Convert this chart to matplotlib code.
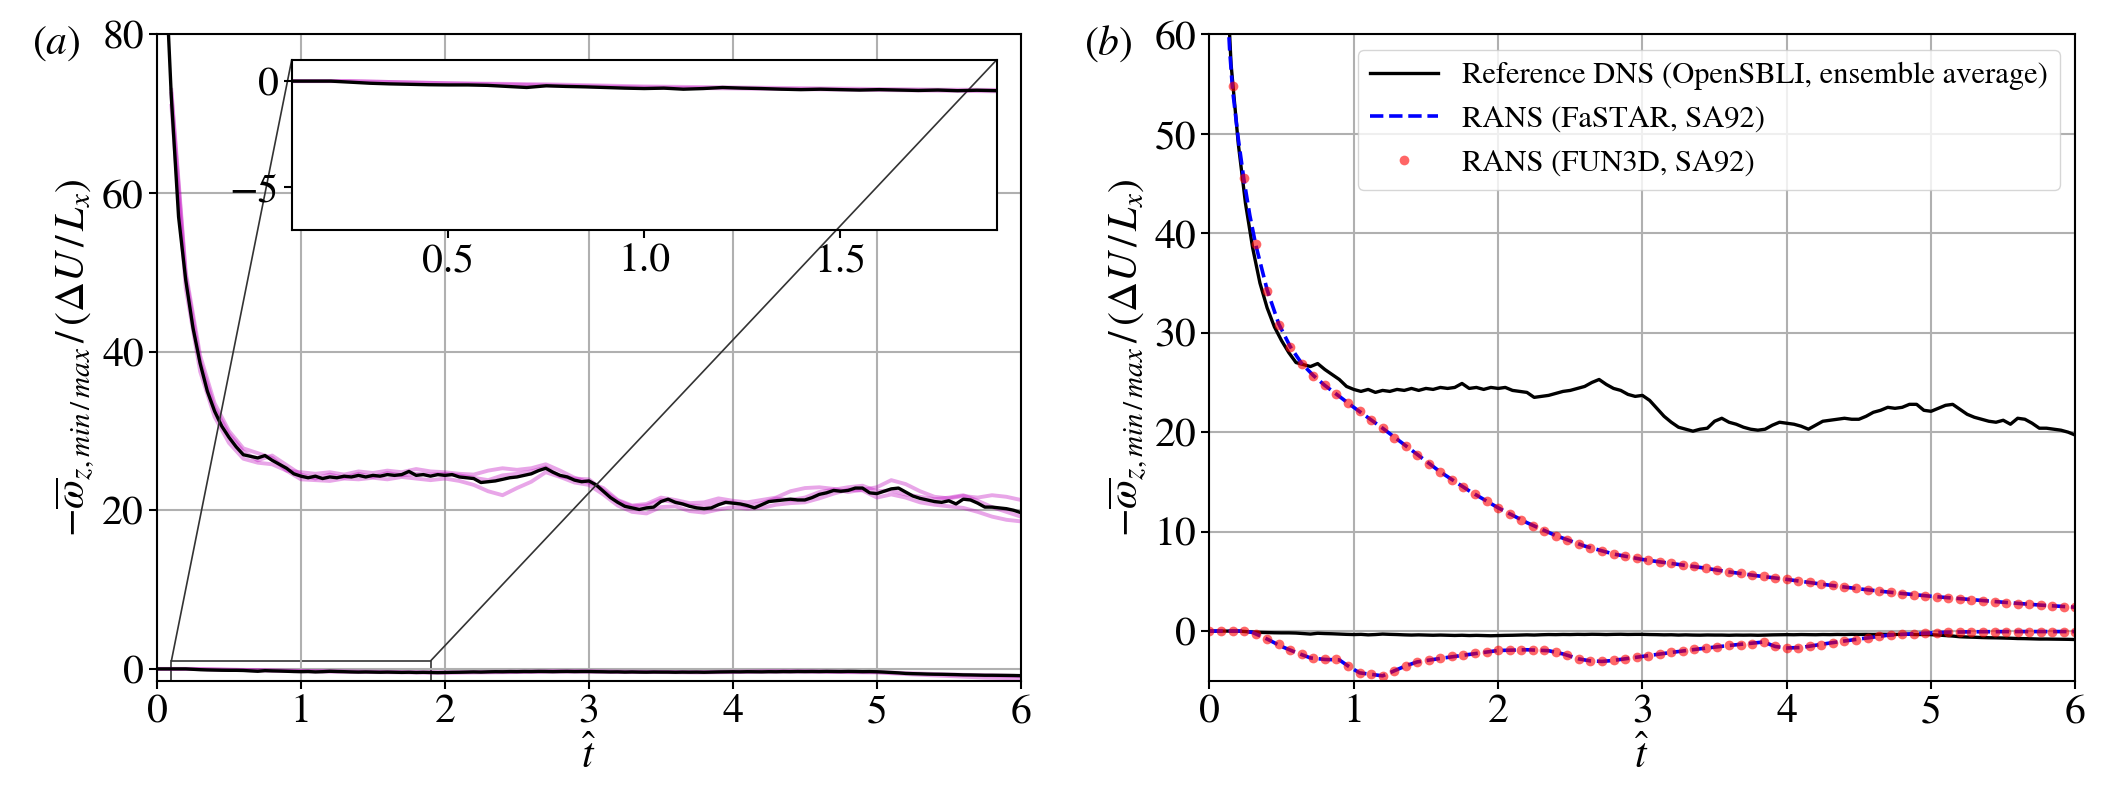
import numpy as np
import matplotlib
matplotlib.use("Agg")
import matplotlib.pyplot as plt
from mpl_toolkits.axes_grid1.inset_locator import mark_inset

plt.rcParams["font.family"] = ["STIXGeneral", "DejaVu Serif"]
plt.rcParams["mathtext.fontset"] = "stix"

# --- reference DNS, ensemble average (max vorticity), t = 0.05 ... 6.00 step 0.05
t_dns = np.arange(1, 121) * 0.05
dns_max = [
    92, 72, 57, 49, 43, 38.5, 35, 32.5, 30.6, 29.2,
    28.0, 27.0, 26.8, 26.6, 26.9, 26.3, 25.8, 25.3, 24.6, 24.3,
    24.1, 24.3, 24.0, 24.2, 24.1, 24.3, 24.2, 24.4, 24.2, 24.4,
    24.3, 24.5, 24.4, 24.5, 24.9, 24.4, 24.5, 24.3, 24.5, 24.4,
    24.5, 24.2, 24.1, 24.0, 23.5, 23.6, 23.7, 23.9, 24.1, 24.2,
    24.4, 24.6, 25.0, 25.3, 24.8, 24.4, 24.2, 23.8, 23.6, 23.7,
    23.2, 22.4, 21.6, 21.0, 20.5, 20.3, 20.1, 20.3, 20.4, 21.1,
    21.4, 21.0, 20.8, 20.5, 20.3, 20.2, 20.3, 20.7, 21.0, 20.9,
    20.8, 20.6, 20.3, 20.7, 21.1, 21.2, 21.3, 21.4, 21.3, 21.3,
    21.6, 22.0, 22.2, 22.5, 22.4, 22.5, 22.8, 22.8, 22.2, 22.1,
    22.4, 22.7, 22.8, 22.3, 21.8, 21.5, 21.3, 21.1, 21.0, 21.2,
    20.8, 21.4, 21.3, 20.9, 20.4, 20.4, 20.3, 20.2, 20.0, 19.7,
]

# DNS ensemble average (min vorticity), t = 0.00 ... 6.00 step 0.05
t_dns_low = np.arange(0, 121) * 0.05
dns_min = [
    0.0,
    0.0, 0.0, 0.0, 0.0, -0.05, -0.1, -0.13, -0.15, -0.17, -0.18,
    -0.18, -0.2, -0.25, -0.3, -0.22, -0.25, -0.27, -0.3, -0.33, -0.35,
    -0.33, -0.38, -0.35, -0.3, -0.33, -0.35, -0.38, -0.4, -0.38, -0.4,
    -0.42, -0.4, -0.42, -0.44, -0.42, -0.45, -0.43, -0.45, -0.47, -0.45,
    -0.43, -0.42, -0.4, -0.38, -0.4, -0.37, -0.35, -0.36, -0.34, -0.35,
    -0.33, -0.34, -0.32, -0.33, -0.35, -0.33, -0.32, -0.34, -0.33, -0.33,
    -0.35, -0.36, -0.38, -0.37, -0.4, -0.38, -0.4, -0.41, -0.39, -0.4,
    -0.4, -0.42, -0.4, -0.41, -0.4, -0.42, -0.4, -0.38, -0.37, -0.36,
    -0.37, -0.35, -0.36, -0.37, -0.35, -0.36, -0.34, -0.35, -0.33, -0.34,
    -0.33, -0.34, -0.32, -0.33, -0.34, -0.32, -0.33, -0.35, -0.34, -0.36,
    -0.4, -0.45, -0.5, -0.57, -0.6, -0.62, -0.65, -0.67, -0.68, -0.7,
    -0.72, -0.75, -0.76, -0.78, -0.8, -0.8, -0.81, -0.82, -0.83, -0.85,
]

# --- individual DNS realisations (panel a), t = 0.1 ... 6.0 step 0.1
t_real = np.arange(1, 61) * 0.1
real_a = [
    73, 50, 39.5, 33.5, 30.0, 27.8, 27.2, 26.6, 25.0, 24.8,
    24.6, 24.8, 24.5, 24.9, 24.7, 25.0, 24.8, 25.2, 24.9, 24.8,
    24.6, 24.5, 25.0, 25.3, 25.1, 25.3, 25.8, 25.0, 24.1, 23.5,
    22.8, 21.3, 20.6, 20.8, 21.6, 21.3, 20.9, 21.0, 21.5, 21.2,
    21.0, 21.3, 21.6, 22.4, 22.8, 22.9, 22.7, 22.3, 22.6, 22.9,
    23.8, 23.3, 22.4, 21.7, 21.5, 21.8, 21.6, 21.9, 21.7, 21.3,
]
real_b = [
    71, 48, 37.5, 31.8, 28.5, 26.5, 26.0, 25.8, 25.0, 23.9,
    23.8, 23.7, 24.0, 23.9, 24.1, 23.9, 24.2, 24.0, 23.8, 24.0,
    23.7, 23.2, 22.4, 21.9, 22.8, 23.6, 24.8, 24.2, 23.5, 23.2,
    22.0, 20.6, 19.8, 19.6, 20.4, 20.5, 19.9, 19.7, 20.1, 20.4,
    20.2, 20.3, 20.7, 20.9, 21.0, 21.5, 22.1, 22.6, 22.5, 21.6,
    22.0, 21.6, 21.0, 20.7, 20.5, 20.3, 19.8, 19.2, 18.8, 18.6,
]
real_c = [
    72.5, 49.5, 38.8, 32.9, 29.6, 27.4, 26.3, 26.9, 25.7, 24.5,
    24.0, 24.5, 24.1, 24.6, 24.2, 24.7, 24.4, 24.6, 24.5, 24.6,
    24.4, 24.1, 23.8, 24.4, 24.6, 24.9, 25.4, 24.3, 24.0, 23.9,
    22.5, 21.2, 20.5, 20.6, 21.3, 21.0, 20.6, 20.5, 21.0, 21.0,
    20.5, 20.9, 21.5, 21.3, 21.6, 22.3, 22.6, 22.9, 23.1, 22.4,
    22.5, 22.0, 21.7, 21.4, 21.6, 21.9, 21.2, 20.4, 19.8, 19.2,
]
# realisations of the min curve, t = 0 ... 6 step 0.25
t_real_low = np.arange(0, 25) * 0.25
real_low_a = [0, 0, -0.1, -0.2, -0.3, -0.35, -0.4, -0.45, -0.5, -0.45, -0.4, -0.35, -0.35,
              -0.4, -0.4, -0.45, -0.4, -0.35, -0.35, -0.4, -0.45, -0.7, -0.9, -1.1, -1.2]
real_low_b = [0, 0, -0.1, -0.15, -0.25, -0.3, -0.35, -0.4, -0.42, -0.38, -0.35, -0.3, -0.3,
              -0.35, -0.38, -0.4, -0.35, -0.3, -0.3, -0.35, -0.4, -0.55, -0.7, -0.8, -0.9]

# --- RANS FaSTAR (SA92)
t_fastar = [0.1, 0.12, 0.14, 0.16, 0.2, 0.24, 0.28, 0.32, 0.4, 0.48, 0.56, 0.64, 0.72, 0.8,
            0.9, 1.0, 1.2, 1.4, 1.6, 1.8, 2.0, 2.2, 2.4, 2.6, 2.8, 3.0, 3.2, 3.4, 3.6, 3.8,
            4.0, 4.25, 4.5, 4.75, 5.0, 5.25, 5.5, 5.75, 6.0]
fastar_max = [72, 64, 58.5, 54.5, 49.5, 45.3, 41.8, 38.9, 34.3, 30.9, 28.6, 26.9, 25.7, 24.7,
              23.6, 22.5, 20.4, 18.2, 16.0, 14.1, 12.4, 10.9, 9.6, 8.55, 7.75, 7.2, 6.8, 6.4,
              5.95, 5.55, 5.2, 4.7, 4.25, 3.85, 3.5, 3.2, 2.9, 2.62, 2.4]
t_fastar_low = [0, 0.25, 0.3, 0.4, 0.5, 0.6, 0.7, 0.8, 0.9, 0.96,
                1.04, 1.12, 1.2, 1.28, 1.36, 1.44, 1.6, 1.8, 2.0, 2.2,
                2.35, 2.45, 2.56, 2.64, 2.72, 2.8, 3.0, 3.2, 3.4, 3.6,
                3.84, 3.92, 4.0, 4.1, 4.3, 4.5, 4.7, 4.9, 5.1, 5.3,
                5.6, 6.0]
fastar_min = [0, 0, -0.15, -0.8, -1.55, -2.15, -2.7, -2.85, -2.9, -3.5,
              -4.2, -4.35, -4.5, -4.0, -3.5, -3.1, -2.75, -2.35, -1.95, -1.88,
              -1.97, -2.3, -2.8, -3.0, -3.05, -2.95, -2.55, -2.15, -1.78, -1.45,
              -1.1, -1.55, -1.7, -1.65, -1.2, -0.8, -0.42, -0.25, -0.12, -0.07,
              -0.05, -0.05]

# --- RANS FUN3D (SA92), sampled every 0.08
t_fun = np.arange(1, 76) * 0.08
fun_max = [
    80, 54.8, 45.6, 38.9, 34.2, 30.8, 28.6, 26.9, 25.7, 24.7,
    23.8, 22.9, 22.1, 21.2, 20.4, 19.4, 18.6, 17.7, 16.8, 16.0,
    15.2, 14.5, 13.8, 13.1, 12.4, 11.8, 11.2, 10.6, 10.1, 9.6,
    9.15, 8.75, 8.4, 8.05, 7.75, 7.5, 7.3, 7.1, 6.95, 6.8,
    6.65, 6.5, 6.3, 6.15, 5.95, 5.8, 5.65, 5.5, 5.35, 5.2,
    5.05, 4.9, 4.75, 4.6, 4.45, 4.3, 4.15, 4.0, 3.9, 3.75,
    3.65, 3.55, 3.45, 3.35, 3.25, 3.15, 3.05, 2.95, 2.85, 2.75,
    2.7, 2.6, 2.55, 2.45, 2.4,
]
t_fun_low = np.arange(0, 76) * 0.08
fun_min = [
    0.0,
    0.0, 0.0, 0.0, -0.3, -0.8, -1.3, -1.9, -2.35, -2.75, -2.85,
    -2.85, -3.5, -4.2, -4.35, -4.5, -4.0, -3.5, -3.1, -2.9, -2.75,
    -2.55, -2.4, -2.25, -2.1, -1.95, -1.9, -1.88, -1.9, -1.95, -2.1,
    -2.4, -2.8, -3.0, -3.05, -2.95, -2.8, -2.65, -2.5, -2.35, -2.15,
    -2.0, -1.85, -1.72, -1.58, -1.45, -1.35, -1.25, -1.1, -1.55, -1.7,
    -1.7, -1.5, -1.35, -1.2, -1.0, -0.85, -0.7, -0.5, -0.4, -0.33,
    -0.28, -0.2, -0.15, -0.1, -0.08, -0.06, -0.05, -0.05, -0.05, -0.05,
    -0.05, -0.05, -0.05, -0.05, -0.05,
]

ylab = r"$-\overline{\omega}_{z,min\,/\,max}\,/\,\left(\Delta U\,/\,L_x\right)$"
FS = 30

fig = plt.figure(figsize=(21.07, 8), dpi=100)
ax1 = fig.add_axes([0.0745, 0.149, 0.410, 0.808])
ax2 = fig.add_axes([0.574, 0.149, 0.411, 0.808])

violet = dict(color="m", alpha=0.35, lw=2.8)


def draw_dns(ax):
    for r in (real_a, real_b, real_c):
        ax.plot(t_real, r, **violet)
    for r in (real_low_a, real_low_b):
        ax.plot(t_real_low, r, **violet)
    ax.plot(t_dns, dns_max, color="k", lw=2.4)
    ax.plot(t_dns_low, dns_min, color="k", lw=2.4)


# panel (a)
draw_dns(ax1)
ax1.set_xlim(0, 6)
ax1.set_ylim(-1.5, 80)
ax1.set_yticks([0, 20, 40, 60, 80])
ax1.grid(True, color="#b0b0b0", lw=1.5)
ax1.set_xlabel(r"$\hat{t}$", fontsize=FS)
ax1.set_ylabel(ylab, fontsize=FS)
ax1.text(-0.145, 0.985, r"$(a)$", transform=ax1.transAxes, fontsize=FS, va="center")

axins = ax1.inset_axes([0.156, 0.6976, 0.816, 0.263])
draw_dns(axins)
axins.set_xlim(0.1, 1.9)
axins.set_ylim(-7, 1)
axins.set_xticks([0.5, 1.0, 1.5])
axins.set_yticks([-5, 0])
mark_inset(ax1, axins, loc1=2, loc2=1, fc="none", ec="0.2", lw=1.2)

# panel (b)
ax2.plot(t_dns, dns_max, color="k", lw=2.4, label="Reference DNS (OpenSBLI, ensemble average)")
ax2.plot(t_dns_low, dns_min, color="k", lw=2.4)
ax2.plot(t_fastar, fastar_max, "--", color="b", lw=2.6, label="RANS (FaSTAR, SA92)")
ax2.plot(t_fastar_low, fastar_min, "--", color="b", lw=2.6)
ax2.plot(t_fun, fun_max, "o", color="red", alpha=0.6, ms=7, mew=0, label="RANS (FUN3D, SA92)")
ax2.plot(t_fun_low, fun_min, "o", color="red", alpha=0.6, ms=7, mew=0)
ax2.set_xlim(0, 6)
ax2.set_ylim(-5, 60)
ax2.set_yticks([0, 10, 20, 30, 40, 50, 60])
ax2.grid(True, color="#b0b0b0", lw=1.5)
ax2.set_xlabel(r"$\hat{t}$", fontsize=FS)
ax2.set_ylabel(ylab, fontsize=FS)
ax2.text(-0.145, 0.985, r"$(b)$", transform=ax2.transAxes, fontsize=FS, va="center")
ax2.legend(loc="upper right", fontsize=22, handlelength=2.2)

for ax in (ax1, ax2, axins):
    ax.tick_params(labelsize=FS, width=1.5, length=6)
    for s in ax.spines.values():
        s.set_linewidth(1.5)

fig.savefig("out.png", dpi=100)
